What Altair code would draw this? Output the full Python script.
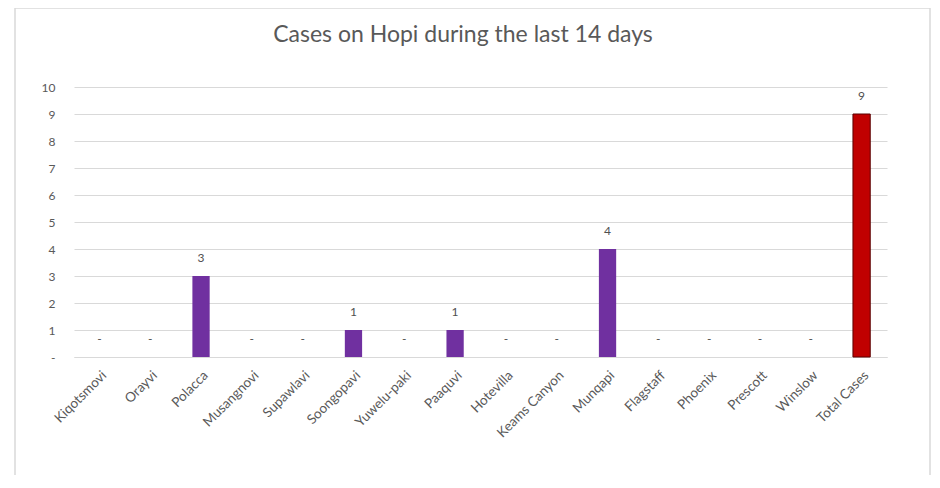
import altair as alt
import pandas as pd

title_text = "Cases on Hopi during the last 14 days"
categories = ["Kiqotsmovi", "Orayvi", "Polacca", "Musangnovi", "Supawlavi",
              "Soongopavi", "Yuwelu-paki", "Paaquvi", "Hotevilla", "Keams Canyon",
              "Munqapi", "Flagstaff", "Phoenix", "Prescott", "Winslow", "Total Cases"]
cases = [0, 0, 3, 0, 0, 1, 0, 1, 0, 0, 4, 0, 0, 0, 0, 9]
is_total = [False] * 15 + [True]

df = pd.DataFrame({"place": categories, "cases": cases, "total": is_total})
df["label"] = ["-" if v == 0 else str(v) for v in cases]

FONT = "Lato"
GRAY = "#595959"

x = alt.X("place:N", sort=categories, title=None,
          scale=alt.Scale(paddingInner=0.66, paddingOuter=0.33),
          axis=alt.Axis(labelAngle=-45, labelFont=FONT, labelFontSize=13.5,
                        labelColor=GRAY, ticks=False, domainColor="#d9d9d9",
                        labelPadding=11, labelAlign="right", labelBaseline="top"))
y = alt.Y("cases:Q", title=None,
          scale=alt.Scale(domain=[0, 10], nice=False),
          axis=alt.Axis(values=list(range(0, 11)), ticks=False, domain=False,
                        gridColor="#d9d9d9", labelFont=FONT, labelFontSize=12,
                        labelColor=GRAY, labelPadding=19,
                        labelExpr="datum.value == 0 ? '-' : datum.label"))

base = alt.Chart(df)

frame = base.mark_rect(fill=None, fillOpacity=0, stroke="#d9d9d9", strokeWidth=1.5, clip=False).encode(
    x=alt.value(-59), x2=alt.value(856), y=alt.value(-79), y2=alt.value(430)
).transform_filter("datum.total")

title = alt.Chart(pd.DataFrame({"t": [title_text]})).mark_text(
    font=FONT, fontSize=23, color=GRAY, align="center", baseline="middle"
).encode(x=alt.value(389), y=alt.value(-52), text="t:N")

bars = base.mark_bar().encode(
    x=x, y=y,
    color=alt.Color("total:N", scale=alt.Scale(domain=[False, True], range=["#7030A0", "#C00000"]), legend=None),
    stroke=alt.value("#5a0000"),
    strokeWidth=alt.condition("datum.total", alt.value(1), alt.value(0)),
)

labels = base.mark_text(font=FONT, fontSize=12, color="#505050", baseline="middle", dy=-18).encode(
    x=x, y=y, text="label:N"
)

chart = alt.layer(frame, bars, labels, title).properties(
    width=813, height=270,
    autosize=alt.AutoSizeParams(type="none"),
    padding={"left": 66, "top": 79, "right": 45, "bottom": 118},
).configure_view(stroke=None)

chart.save("out.html", embed_options={"renderer": "svg", "actions": False})
